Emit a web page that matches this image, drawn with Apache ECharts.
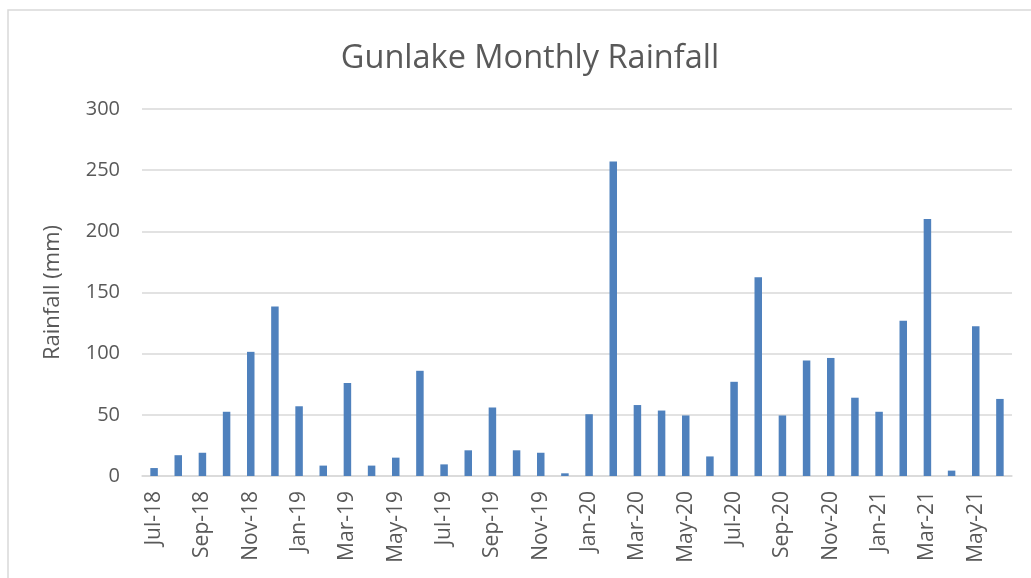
<!DOCTYPE html>
<html>
<head>
<meta charset="utf-8">
<script src="https://cdn.jsdelivr.net/npm/echarts@6/dist/echarts.min.js"></script>
<style>
html, body { margin: 0; padding: 0; background: #fff; }
#chart { width: 1031px; height: 578px; }
</style>
</head>
<body>
<div id="chart"></div>
<script>
'use strict';
var months = [
	'Jul-18', 'Aug-18', 'Sep-18', 'Oct-18', 'Nov-18', 'Dec-18',
	'Jan-19', 'Feb-19', 'Mar-19', 'Apr-19', 'May-19', 'Jun-19',
	'Jul-19', 'Aug-19', 'Sep-19', 'Oct-19', 'Nov-19', 'Dec-19',
	'Jan-20', 'Feb-20', 'Mar-20', 'Apr-20', 'May-20', 'Jun-20',
	'Jul-20', 'Aug-20', 'Sep-20', 'Oct-20', 'Nov-20', 'Dec-20',
	'Jan-21', 'Feb-21', 'Mar-21', 'Apr-21', 'May-21', 'Jun-21'
];
var rainfall = [
	6.5, 17, 19, 52.5, 101.5, 138.5,
	57, 8.5, 76, 8.5, 15, 86,
	9.5, 21, 56, 21, 19, 2.2,
	50.5, 257, 58, 53.5, 49.5, 16,
	77, 162.5, 49.5, 94.5, 96.5, 64,
	52.5, 127, 210, 4.4, 122.5, 63
];
var yTicks = [0, 50, 100, 150, 200, 250, 300];

var textColor = '#595959';
var lineColor = '#d9d9d9';
var font = 'Open Sans';

var myChart = echarts.init(document.getElementById('chart'));
var option = {
	animation: false,
	graphic: [{
		type: 'rect',
		shape: {x: 8, y: 10, width: 1040, height: 590},
		style: {fill: null, stroke: lineColor, lineWidth: 1.5},
		silent: true
	}],
	title: {
		text: 'Gunlake Monthly Rainfall',
		left: 525,
		top: 37,
		textAlign: 'center',
		textStyle: {
			color: textColor,
			fontFamily: font,
			fontSize: 32.5,
			fontWeight: 'normal'
		}
	},
	grid: {
		left: 142,
		right: 19,
		top: 109,
		bottom: 102,
		containLabel: false
	},
	xAxis: {
		type: 'category',
		data: months,
		axisLine: {lineStyle: {color: lineColor, width: 1.5}},
		axisTick: {
			interval: 1,
			length: 7,
			lineStyle: {color: lineColor, width: 1.5}
		},
		axisLabel: {
			interval: 1,
			rotate: 90,
			margin: 15,
			color: textColor,
			fontFamily: font,
			fontSize: 21
		}
	},
	yAxis: {
		type: 'value',
		min: yTicks[0],
		max: yTicks[yTicks.length - 1],
		interval: yTicks[1] - yTicks[0],
		name: 'Rainfall (mm)',
		nameLocation: 'middle',
		nameGap: 78,
		nameTextStyle: {
			color: textColor,
			fontFamily: font,
			fontSize: 22
		},
		axisLine: {show: false},
		axisTick: {show: false},
		axisLabel: {
			margin: 22,
			color: textColor,
			fontFamily: font,
			fontSize: 20
		},
		splitLine: {lineStyle: {color: lineColor, width: 1.5}}
	},
	series: [{
		name: 'Rainfall',
		type: 'bar',
		data: rainfall,
		barWidth: 7.5,
		itemStyle: {color: '#4f81bd'}
	}]
};
myChart.setOption(option);
</script>
</body>
</html>
